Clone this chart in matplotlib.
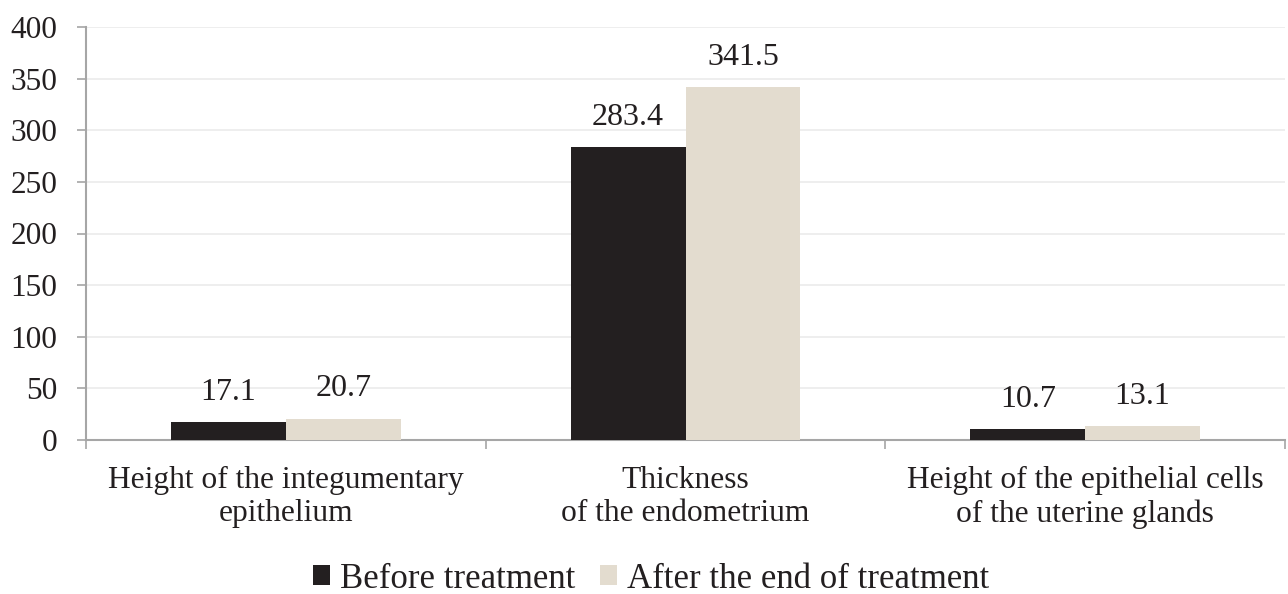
import matplotlib
matplotlib.use("Agg")
import matplotlib.pyplot as plt
import numpy as np

categories = [
    "Height of the integumentary\nepithelium",
    "Thickness\nof the endometrium",
    "Height of the epithelial cells\nof the uterine glands",
]
series_names = ["Before treatment", "After the end of treatment"]
before = [17.1, 283.4, 10.7]
after = [20.7, 341.5, 13.1]
y_ticks = [0, 50, 100, 150, 200, 250, 300, 350, 400]

colors = ["#231F20", "#E3DCCF"]
axis_gray = "#A6A6A6"
grid_gray = "#EBEBEB"
text_color = "#231F20"

plt.rcParams["font.family"] = ["Liberation Serif", "DejaVu Serif"]

fig = plt.figure(figsize=(12.88, 5.94), dpi=100)
ax = fig.add_axes([86 / 1288, 1 - 440 / 594, (1285 - 86) / 1288, (440 - 27) / 594])

x = np.arange(len(categories))
w = 0.2875
bars_b = ax.bar(x - w / 2, before, w, color=colors[0], label=series_names[0], zorder=3)
bars_a = ax.bar(x + w / 2, after, w, color=colors[1], label=series_names[1], zorder=3)

for bars, vals in ((bars_b, before), (bars_a, after)):
    for b, v in zip(bars, vals):
        ax.annotate(f"{v:.1f}", (b.get_x() + b.get_width() / 2, v),
                    xytext=(0, 16), textcoords="offset points",
                    ha="center", va="baseline", fontsize=23, color=text_color)

ax.set_xlim(-0.5, len(categories) - 0.5)
ax.set_ylim(0, 400)
ax.set_yticks(y_ticks)
ax.tick_params(axis="y", labelsize=22.5, length=6.5, width=1.2, color=axis_gray,
               pad=14, labelcolor=text_color)
ax.yaxis.grid(True, color=grid_gray, linewidth=1.2, zorder=0)
ax.set_axisbelow(True)

# Category labels centred under each group, ticks on the group boundaries
ax.set_xticks(np.arange(-0.5, len(categories) - 0.4, 1.0))
ax.set_xticklabels([])
ax.tick_params(axis="x", length=6.5, width=1.2, color=axis_gray)
ax.set_xticks(x, minor=True)
ax.set_xticklabels(categories, minor=True)
ax.tick_params(axis="x", which="minor", length=0, labelsize=22.7, pad=19,
               labelcolor=text_color)
for lbl in ax.get_xticklabels(minor=True):
    lbl.set_linespacing(1.17)

for s in ("top", "right"):
    ax.spines[s].set_visible(False)
for s in ("left", "bottom"):
    ax.spines[s].set_color(axis_gray)
    ax.spines[s].set_linewidth(1.5)

fig.legend(handles=[bars_b, bars_a], labels=series_names, loc="center",
           bbox_to_anchor=(651 / 1288, 1 - 579 / 594), ncol=2, frameon=False,
           fontsize=25, handlelength=0.49, handleheight=0.49, handletextpad=0.29,
           columnspacing=0.72, labelcolor=text_color, borderpad=0)

fig.savefig("out.png", dpi=100, facecolor="white")
